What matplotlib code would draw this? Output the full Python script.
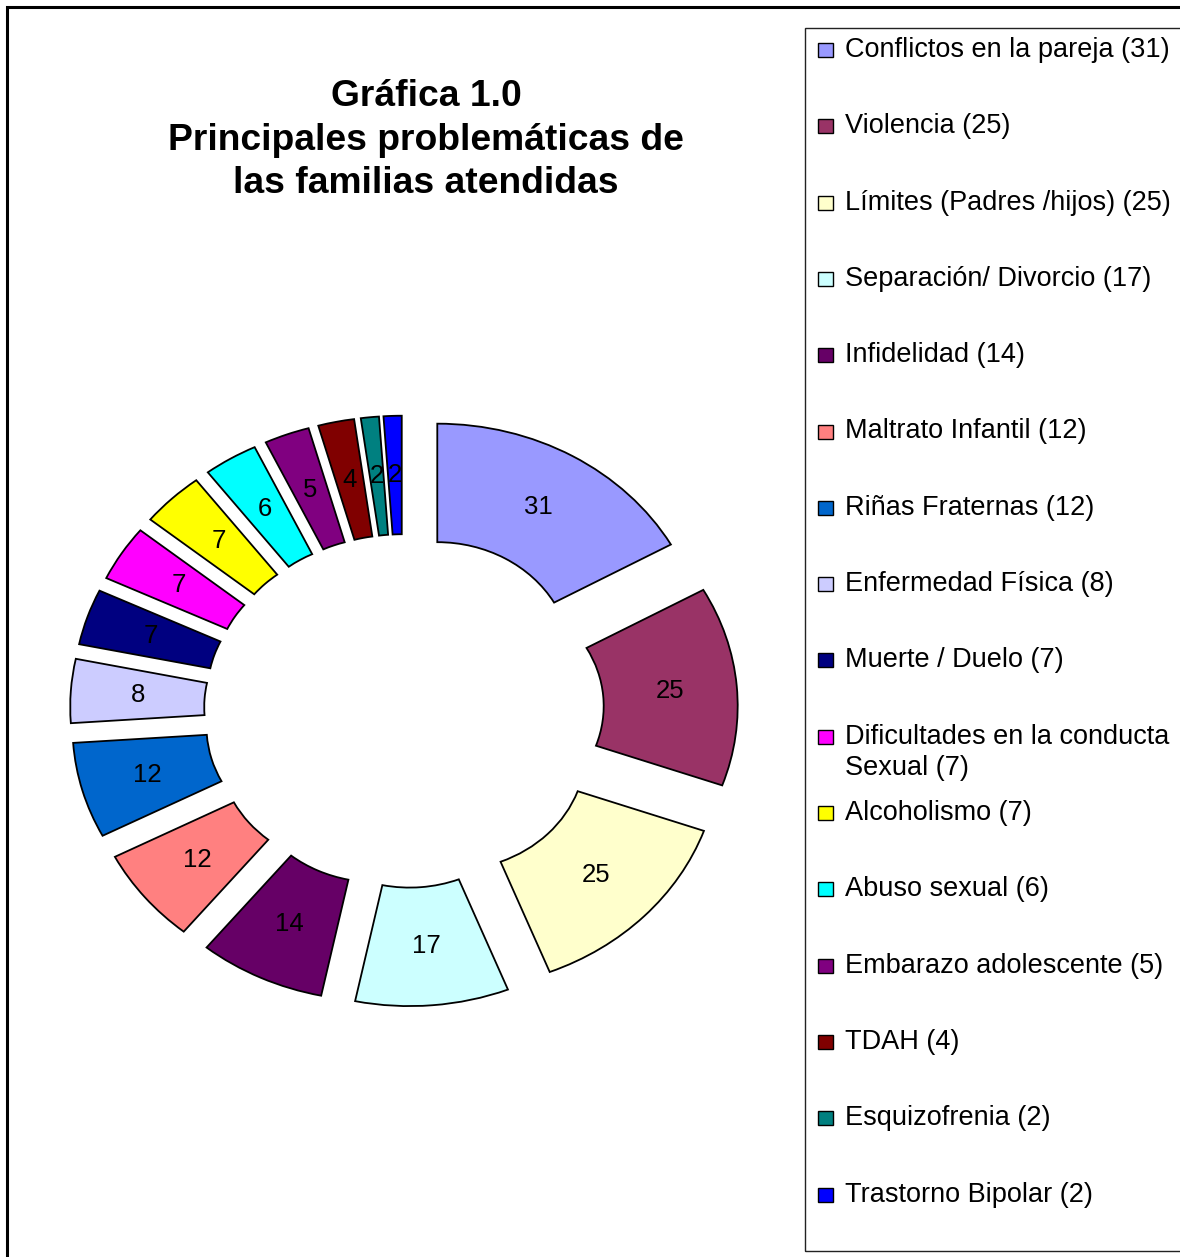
import matplotlib.pyplot as plt
from matplotlib.patches import Rectangle

plt.rcParams['font.family'] = ['Liberation Sans', 'DejaVu Sans']

### data ####
categorias = ["Conflictos en la pareja", "Violencia", "Límites (Padres /hijos)",
              "Separación/ Divorcio", "Infidelidad", "Maltrato Infantil",
              "Riñas Fraternas", "Enfermedad Física", "Muerte / Duelo",
              "Dificultades en la conducta\nSexual", "Alcoholismo", "Abuso sexual",
              "Embarazo adolescente", "TDAH", "Esquizofrenia", "Trastorno Bipolar"]
valores = [31, 25, 25, 17, 14, 12, 12, 8, 7, 7, 7, 6, 5, 4, 2, 2]
colores = ["#9999FF", "#993366", "#FFFFCC", "#CCFFFF", "#660066", "#FF8080",
           "#0066CC", "#CCCCFF", "#000080", "#FF00FF", "#FFFF00", "#00FFFF",
           "#800080", "#800000", "#008080", "#0000FF"]
titulo = "Gráfica 1.0\nPrincipales problemáticas de\nlas familias atendidas"

W, H = 1180, 1257
fig = plt.figure(figsize=(W / 100, H / 100), dpi=100)


def fx(px):
    return px / W


def fy(py):
    # py measured from top of the image
    return 1 - py / H


### donut axes (stretched like the original) ####
cx, cy = 404, 711
ux, uy = 268, 237
lim = 1.35
ax = fig.add_axes([fx(cx - lim * ux), fy(cy + lim * uy), 2 * lim * ux / W, 2 * lim * uy / H])

total = sum(valores)
wedges, texts, autotexts = ax.pie(
    valores, colors=colores, startangle=90, counterclock=False,
    explode=[0.246] * len(valores), radius=1.0,
    wedgeprops=dict(width=0.5, edgecolor="black", linewidth=1.3),
    autopct=lambda p: f"{round(p * total / 100)}", pctdistance=0.75,
    textprops=dict(fontsize=18.5, color="black"))
ax.set_aspect("auto")
ax.set_xlim(-lim, lim)
ax.set_ylim(-lim, lim)
ax.axis("off")

### title ####
fig.text(fx(426), fy(140), titulo, ha="center", va="center", fontsize=26.8,
         fontweight="bold", linespacing=1.33)

### legend (drawn by hand so the long entry overflows like Excel) ####
leg_x0, leg_y0, leg_step = 818, 50, 76.3
for i, (cat, val, col) in enumerate(zip(categorias, valores, colores)):
    y = leg_y0 + i * leg_step
    fig.patches.append(Rectangle((fx(leg_x0), fy(y + 7)), 15 / W, 14 / H,
                                 transform=fig.transFigure, facecolor=col,
                                 edgecolor="black", linewidth=1))
    lineas = (cat + f" ({val})").split("\n")
    for k, linea in enumerate(lineas):
        fig.text(fx(845), fy(y + k * 31), linea, ha="left", va="center", fontsize=19.5)

fig.patches.append(Rectangle((fx(805), fy(1251)), 500 / W, (1251 - 28) / H,
                             transform=fig.transFigure, fill=False,
                             edgecolor="#222222", linewidth=1))
fig.patches.append(Rectangle((fx(7), fy(1400)), 1300 / W, (1400 - 7) / H,
                             transform=fig.transFigure, fill=False,
                             edgecolor="black", linewidth=2.2))

fig.savefig("out.png", dpi=100, facecolor="white")
